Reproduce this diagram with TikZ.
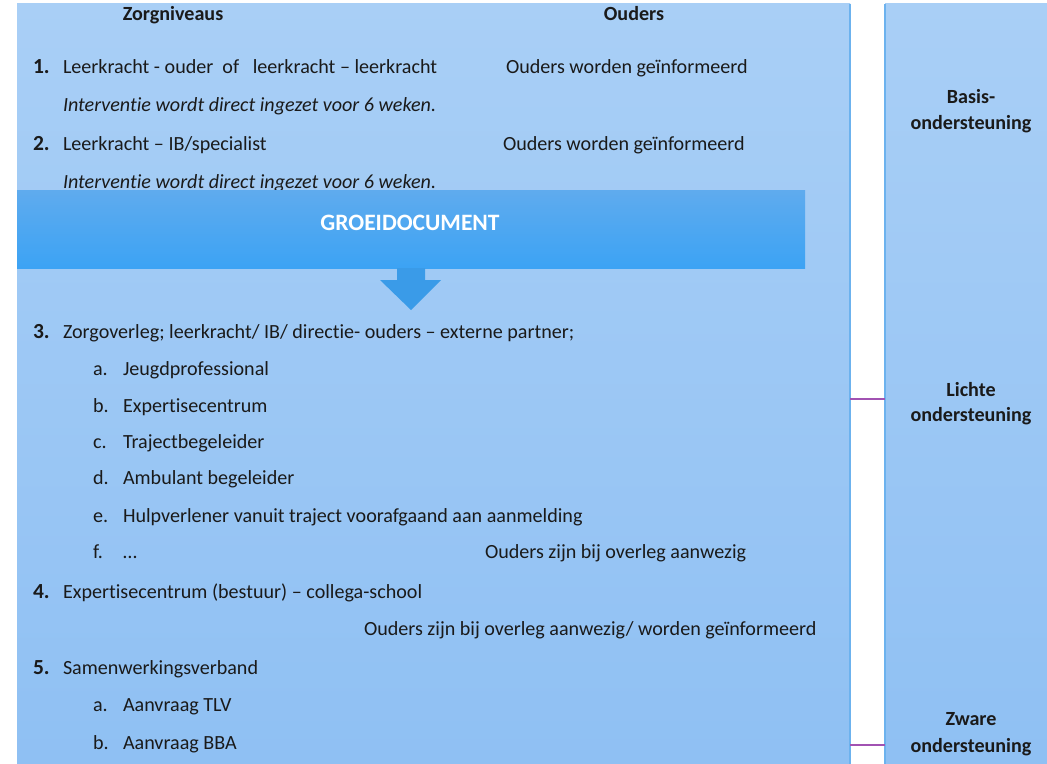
\documentclass[tikz,border=0pt]{standalone}
\usepackage{fontspec}
\setmainfont{Carlito}[Ligatures=NoCommon]
\definecolor{paneltop}{HTML}{A9CFF6}
\definecolor{panelbot}{HTML}{8FC0F3}
\definecolor{bantop}{HTML}{5FABEE}
\definecolor{banbot}{HTML}{3CA3F4}
\definecolor{arrowc}{HTML}{3A9BE8}
\definecolor{edgec}{HTML}{6CB2EE}
\definecolor{linkc}{HTML}{A152B2}
\definecolor{txtc}{HTML}{1A1A1A}
\newcommand{\bodyfont}{\fontsize{20.1bp}{24bp}\selectfont}
\newcommand{\numfont}{\fontsize{21.5bp}{24bp}\selectfont\bfseries}
\newcommand{\banfont}{\fontsize{23.5bp}{26bp}\selectfont\bfseries}
\begin{document}
\begin{tikzpicture}[x=1bp,y=-1bp,
  panelbox/.style={anchor=north west, inner sep=0, outer sep=0, draw=none, top color=paneltop, bottom color=panelbot},
  txt/.style={anchor=base west, inner sep=0, outer sep=0, font=\bodyfont, text=txtc},
  itxt/.style={txt, font=\bodyfont\itshape},
  numtxt/.style={anchor=base west, inner sep=0, outer sep=0, font=\numfont, text=txtc},
  headtxt/.style={anchor=base, inner sep=0, outer sep=0, font=\bodyfont\bfseries, text=txtc},
  sidetxt/.style={anchor=base, inner sep=0, outer sep=0, font=\bodyfont\bfseries, text=txtc},
  edgeline/.style={draw=edgec, line width=2bp},
  linkline/.style={draw=linkc, line width=2bp}]
\fill[white] (0,0) rectangle (1047,764);
\useasboundingbox (0,0) rectangle (1047,764);
% panels
\node[panelbox, minimum width=833bp, minimum height=760bp] (lp) at (17,4) {};
\node[panelbox, minimum width=162bp, minimum height=760bp] (rp) at (885,4) {};
\draw[edgeline] (lp.north east) -- (lp.south east);
\draw[edgeline] (rp.north west) -- (rp.south west);
% connectors between panels
\coordinate (l1a) at (850,399); \coordinate (l1b) at (885,399);
\coordinate (l2a) at (850,745); \coordinate (l2b) at (885,745);
\draw[linkline] (l1a) -- (l1b);
\draw[linkline] (l2a) -- (l2b);
% headers
\node[headtxt] (hz) at (173,21) {Zorgniveaus};
\node[headtxt] (ho) at (634,21) {Ouders};
% level 1 and 2
\node[numtxt] (n1) at (33,74) {1.};
\node[txt] (t1) at (63,74) {Leerkracht - ouder\ \ of\ \ \ leerkracht – leerkracht};
\node[txt] (o1) at (506,74) {Ouders worden geïnformeerd};
\node[itxt] (i1) at (63,111) {Interventie wordt direct ingezet voor 6 weken.};
\node[numtxt] (n2) at (33,150) {2.};
\node[txt] (t2) at (63,150) {Leerkracht – IB/specialist};
\node[txt] (o2) at (503,150) {Ouders worden geïnformeerd};
\node[itxt] (i2) at (63,188) {Interventie wordt direct ingezet voor 6 weken.};
% banner
\node[anchor=north west, inner sep=0, outer sep=0, minimum width=788bp, minimum height=78bp, top color=bantop, bottom color=banbot] (ban) at (17,190) {};
\node[anchor=base, inner sep=0, font=\banfont, text=white] (bant) at (410,230) {GROEIDOCUMENT};
\fill[arrowc] (397,268) -- (425,268) -- (425,280) -- (441,280) -- (411,310) -- (380,280) -- (397,280) -- cycle;
% level 3
\node[numtxt] (n3) at (33,338) {3.};
\node[txt] (t3) at (63,338) {Zorgoverleg; leerkracht/ IB/ directie- ouders – externe partner;};
\node[txt] (la) at (93,375) {a.};
\node[txt] (ta) at (123,375) {Jeugdprofessional};
\node[txt] (lb) at (93,412) {b.};
\node[txt] (tb) at (123,412) {Expertisecentrum};
\node[txt] (lc) at (93,448) {c.};
\node[txt] (tc) at (123,448) {Trajectbegeleider};
\node[txt] (ld) at (93,484) {d.};
\node[txt] (td) at (123,484) {Ambulant begeleider};
\node[txt] (le) at (93,522) {e.};
\node[txt] (te) at (123,522) {Hulpverlener vanuit traject voorafgaand aan aanmelding};
\node[txt] (lf) at (93,558) {f.};
\node[txt] (tf) at (123,558) {…};
\node[txt] (o3) at (485,558) {Ouders zijn bij overleg aanwezig};
% level 4
\node[numtxt] (n4) at (33,598) {4.};
\node[txt] (t4) at (63,598) {Expertisecentrum (bestuur) – collega-school};
\node[txt] (o4) at (364,635) {Ouders zijn bij overleg aanwezig/ worden geïnformeerd};
% level 5
\node[numtxt] (n5) at (33,674) {5.};
\node[txt] (t5) at (63,674) {Samenwerkingsverband};
\node[txt] (l5a) at (93,711) {a.};
\node[txt] (t5a) at (123,711) {Aanvraag TLV};
\node[txt] (l5b) at (93,749) {b.};
\node[txt] (t5b) at (123,749) {Aanvraag BBA};
% side labels
\node[sidetxt] (s1a) at (971,104) {Basis-};
\node[sidetxt] (s1b) at (971,129) {ondersteuning};
\node[sidetxt] (s2a) at (971,396) {Lichte};
\node[sidetxt] (s2b) at (971,421) {ondersteuning};
\node[sidetxt] (s3a) at (971,725) {Zware};
\node[sidetxt] (s3b) at (971,752) {ondersteuning};
\end{tikzpicture}
\end{document}
